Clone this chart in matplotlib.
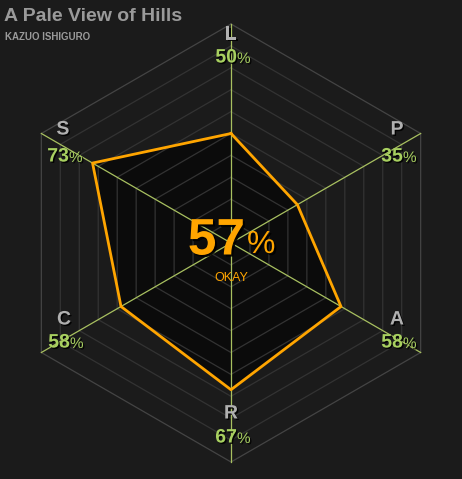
import numpy as np
import matplotlib
matplotlib.use("Agg")
import matplotlib.pyplot as plt
import matplotlib.patheffects as pe

plt.rcParams['font.family'] = ['Liberation Sans', 'DejaVu Sans']

labels = ["L", "P", "A", "R", "C", "S"]
values = [50, 35, 58, 67, 58, 73]
score = 57
rating = "Okay"
title = "A Pale View of Hills"
author = "Kazuo Ishiguro"

W, H = 462, 479
cx, cy, R = 231, 243, 219
fig = plt.figure(figsize=(W/100, H/100), dpi=100, facecolor="#1b1b1b")
ax = fig.add_axes([0, 0, 1, 1])
ax.set_xlim(0, W); ax.set_ylim(H, 0); ax.axis("off")
ax.set_facecolor("#1b1b1b")

ang = np.deg2rad(90 - 60*np.arange(6))
def pt(frac):
    return cx + R*frac*np.cos(ang), cy - R*frac*np.sin(ang)

vx, vy = pt(np.array(values)/100)
ax.fill(vx, vy, color="#0b0b0b", zorder=1)
for k in range(1, 11):
    x, y = pt(np.full(6, k/10))
    ax.plot(np.append(x, x[0]), np.append(y, y[0]), color="#333333" if k < 10 else "#444444", lw=0.9, zorder=2)
ox, oy = pt(np.ones(6))
for i in range(6):
    ax.plot([cx, ox[i]], [cy, oy[i]], color="#a8c060", lw=0.9, zorder=3)
ax.plot(np.append(vx, vx[0]), np.append(vy, vy[0]), color="#ffa500", lw=2, zorder=4)

shadow = [pe.withSimplePatchShadow(offset=(1, -1), shadow_rgbFace="black", alpha=0.9)]
lab_pos = [(231, 35, 58), (397, 130, 157), (397, 320, 343), (231, 414, 438), (64, 320, 343), (63, 130, 157)]
for (lx, ly, vy2), lab, v in zip(lab_pos, labels, values):
    ax.text(lx, ly, lab, color="#b0b0b0", fontsize=14, fontweight="bold", ha="center", va="center", path_effects=shadow, zorder=5)
    ax.text(lx+6, vy2, f"{v}", color="#a8d060", fontsize=14, fontweight="bold", ha="right", va="center", path_effects=shadow, zorder=5)
    ax.text(lx+6, vy2+1, "%", color="#a8d060", fontsize=11, ha="left", va="center", path_effects=shadow, zorder=5)

sh2 = [pe.withSimplePatchShadow(offset=(1.5, -1.5), shadow_rgbFace="black", alpha=0.9)]
ax.text(245, 241, f"{score}", color="#ffa500", fontsize=37, fontweight="bold", ha="right", va="center", path_effects=sh2, zorder=6)
ax.text(247, 245, "%", color="#ffa500", fontsize=23, ha="left", va="center", path_effects=sh2, zorder=6)
ax.text(231, 278, rating.upper(), color="#ffa500", fontsize=9, ha="center", va="center", zorder=6)

ax.text(4, 16, title, color="#9a9a9a", fontsize=14, fontweight="bold", ha="left", va="center")
ax.text(5, 37, author.upper(), color="#9a9a9a", fontsize=7, fontweight="bold", ha="left", va="center")

fig.savefig("out.png", dpi=100, facecolor=fig.get_facecolor())
